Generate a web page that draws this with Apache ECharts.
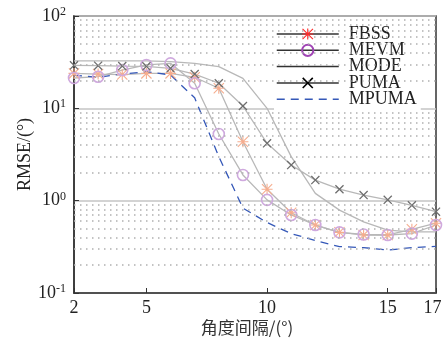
<!DOCTYPE html>
<html>
<head>
<meta charset="utf-8">
<script src="https://cdn.jsdelivr.net/npm/echarts@6/dist/echarts.min.js"></script>
<style>
  html, body { margin: 0; padding: 0; background: #fff; }
  #chart { width: 443px; height: 338px; }
</style>
</head>
<body>
<div id="chart"></div>
<script>
const xs = [2, 3, 4, 5, 6, 7, 8, 9, 10, 11, 12, 13, 14, 15, 16, 17]
const fbss = [23.9, 23.5, 23.2, 23.9, 23.9, 21.7, 16.5, 4.35, 1.33, 0.74, 0.545, 0.454, 0.425, 0.425, 0.49, 0.57]
const mevm = [21.3, 22, 26, 29.5, 30.7, 18.7, 5.27, 1.9, 1.02, 0.7, 0.545, 0.454, 0.43, 0.425, 0.44, 0.545]
const mode = [32.6, 32.6, 32.6, 32.6, 32, 30.7, 28.3, 21.1, 10, 3, 1.2, 0.79, 0.59, 0.48, 0.46, 0.46]
const puma = [29.2, 29, 28.7, 28.5, 27.1, 23.5, 18.7, 10.6, 4.18, 2.43, 1.67, 1.33, 1.15, 1.02, 0.89, 0.76]
const mpuma = [22.8, 21.7, 23.5, 24.9, 23, 13, 3.0, 0.83, 0.58, 0.44, 0.37, 0.318, 0.31, 0.292, 0.31, 0.32]
const xTicks = [2, 5, 10, 15, 17]
const minorGrid = [0.2, 0.3, 0.4, 0.5, 0.6, 0.7, 0.8, 0.9, 2, 3, 4, 5, 6, 7, 8, 9, 20, 30, 40, 50, 60, 70, 80, 90]

const pair = (arr) => xs.map((x, i) => [x, arr[i]])

// marker shapes
const STAR = 'path://M0 9L20 9L20 11L0 11Z M9 0L11 0L11 20L9 20Z M0 1.4L1.4 0L20 18.6L18.6 20Z M18.6 0L20 1.4L1.4 20L0 18.6Z'
const CROSS = 'path://M0 2L2 0L20 18L18 20Z M18 0L20 2L2 20L0 18Z'

const serif = 'Liberation Serif'
const lineGray = '#b8b8b8'
const noMark = { color: 'rgba(0,0,0,0)', borderWidth: 0 }

const chart = echarts.init(document.getElementById('chart'))
chart.setOption({
  animation: false,
  backgroundColor: '#fff',
  grid: {
    left: 74, right: 7, top: 16, bottom: 45,
    outerBoundsMode: 'none',
    show: true, borderColor: '#333', borderWidth: 1.5,
  },
  legend: {
    orient: 'vertical',
    left: 274,
    top: 23,
    itemWidth: 62,
    itemHeight: 14,
    itemGap: -1.7,
    padding: [2, 4, 2, 2],
    backgroundColor: '#fff',
    textStyle: { fontFamily: serif, fontSize: 18, color: '#222', lineHeight: 14, padding: [0, 0, 0, 5] },
    data: [
      { name: 'FBSS', itemStyle: { color: '#ff2a2a' }, lineStyle: { color: '#333', width: 1.5 } },
      { name: 'MEVM', itemStyle: { color: 'rgba(0,0,0,0)', borderColor: '#a045b5', borderWidth: 2 }, lineStyle: { color: '#333', width: 1.5 } },
      { name: 'MODE', itemStyle: noMark, lineStyle: { color: '#333', width: 1.5 } },
      { name: 'PUMA', itemStyle: { color: '#000' }, lineStyle: { color: '#333', width: 1.5 } },
      { name: 'MPUMA', itemStyle: noMark, lineStyle: { color: '#3558b8', width: 1.5 } },
    ],
  },
  xAxis: {
    type: 'value',
    min: 2,
    max: 17,
    name: '角度间隔/(°)',
    nameLocation: 'middle',
    nameGap: 26,
    nameMoveOverlap: false,
    nameTextStyle: { fontFamily: 'Noto Sans CJK SC', fontSize: 17, color: '#333', padding: [0, 16, 0, 0] },
    axisLine: { lineStyle: { color: '#333', width: 1.5 } },
    axisTick: { inside: true, length: 5, customValues: xTicks, lineStyle: { color: '#333' } },
    axisLabel: {
      customValues: xTicks,
      formatter: (v) => (v === 17 ? '{r|17}' : String(v)),
      fontFamily: serif,
      fontSize: 18,
      color: '#222',
      margin: 6,
      rich: { r: { fontFamily: serif, fontSize: 18, color: '#222', padding: [0, 7, 0, 0] } },
    },
    splitLine: { show: false },
  },
  yAxis: {
    type: 'log',
    logBase: 10,
    min: 0.1,
    max: 100,
    name: 'RMSE/(°)',
    nameLocation: 'middle',
    nameGap: 40,
    nameMoveOverlap: false,
    nameTextStyle: { fontFamily: serif, fontSize: 18, color: '#222' },
    axisLine: { lineStyle: { color: '#333', width: 1.5 } },
    axisTick: { inside: true, length: 5, lineStyle: { color: '#333' } },
    axisLabel: {
      margin: 8,
      formatter: (v) => '10{sup|' + Math.round(Math.log10(v)) + '}',
      fontFamily: serif,
      fontSize: 18,
      color: '#222',
      rich: { sup: { fontFamily: serif, fontSize: 12, color: '#222', verticalAlign: 'top', padding: [0, 0, 8, 0] } },
    },
    splitLine: { lineStyle: { color: '#c4c4c4', width: 1.5 } },
  },
  series: [
    {
      name: 'grid',
      type: 'line',
      data: [],
      silent: true,
      markLine: {
        silent: true,
        symbol: ['none', 'none'],
        label: { show: false },
        lineStyle: { color: '#b0b0b0', width: 1.5, type: [1.5, 4.5] },
        data: minorGrid.map((v) => ({ yAxis: v })),
      },
    },
    {
      name: 'MODE',
      type: 'line',
      data: pair(mode),
      symbol: 'none',
      lineStyle: { color: lineGray, width: 1.3 },
      itemStyle: { color: lineGray },
    },
    {
      name: 'FBSS',
      type: 'line',
      data: pair(fbss),
      symbol: STAR,
      symbolSize: 11,
      lineStyle: { color: lineGray, width: 1.3 },
      itemStyle: { color: '#f6ad8e' },
    },
    {
      name: 'MEVM',
      type: 'line',
      data: pair(mevm),
      symbol: 'circle',
      symbolSize: 11,
      lineStyle: { color: lineGray, width: 1.3 },
      itemStyle: { color: 'rgba(0,0,0,0)', borderColor: '#cfa9de', borderWidth: 1.6 },
    },
    {
      name: 'PUMA',
      type: 'line',
      data: pair(puma),
      symbol: CROSS,
      symbolSize: 9,
      lineStyle: { color: lineGray, width: 1.3 },
      itemStyle: { color: '#6d6d6d' },
    },
    {
      name: 'MPUMA',
      type: 'line',
      data: pair(mpuma),
      symbol: 'none',
      lineStyle: { color: '#3558b8', width: 1.3, type: [8, 6] },
      itemStyle: { color: '#3558b8' },
    },
  ],
})
</script>
</body>
</html>
